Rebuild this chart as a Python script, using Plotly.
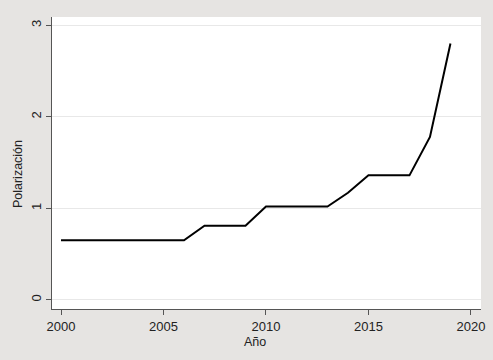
import plotly.graph_objects as go

years = [2000, 2001, 2002, 2003, 2004, 2005, 2006, 2007, 2008, 2009, 2010,
         2011, 2012, 2013, 2014, 2015, 2016, 2017, 2018, 2019]
polarizacion = [0.65, 0.65, 0.65, 0.65, 0.65, 0.65, 0.65, 0.81, 0.81, 0.81, 1.02,
                1.02, 1.02, 1.02, 1.17, 1.36, 1.36, 1.36, 1.78, 2.80]
x_ticks = [2000, 2005, 2010, 2015, 2020]
y_ticks = [0, 1, 2, 3]
x_title = "Año"
y_title = "Polarización"

BG = "#e6e4e2"

fig = go.Figure()
fig.add_trace(go.Scatter(x=years, y=polarizacion, mode="lines",
                         line=dict(color="black", width=2), showlegend=False))

font = dict(family="Liberation Sans, Arial, sans-serif", size=13, color="#222")
tfont = dict(family="Liberation Sans, Arial, sans-serif", size=12.5, color="#222")
fig.update_layout(
    width=493, height=360,
    margin=dict(l=52, r=12, t=17, b=51),
    paper_bgcolor=BG,
    plot_bgcolor="white",
    font=font,
    xaxis=dict(range=[1999.56, 2020.49], tickvals=x_ticks, ticks="outside",
               ticklen=5, tickcolor="#555", showline=True, linecolor="#555",
               linewidth=1, showgrid=False, zeroline=False, automargin=False),
    yaxis=dict(range=[-0.1, 3.09], tickvals=y_ticks, ticks="outside",
               ticklen=5, tickcolor="#555", showline=True, linecolor="#555",
               linewidth=1, showgrid=True, gridcolor="#e8e8e8", gridwidth=1,
               zeroline=False, tickangle=-90, automargin=False),
    annotations=[
        dict(text=x_title, xref="paper", yref="paper", x=0.473, y=-0.113,
             xanchor="center", yanchor="middle", showarrow=False, font=tfont),
        dict(text=y_title, xref="paper", yref="paper", x=-0.0793, y=0.462,
             xanchor="center", yanchor="middle", showarrow=False, font=tfont,
             textangle=-90),
    ],
)
fig.write_html("out.html", config={"displayModeBar": False},
               post_script="document.body.style.margin='0';"
                           "document.body.style.background='%s';" % BG)
